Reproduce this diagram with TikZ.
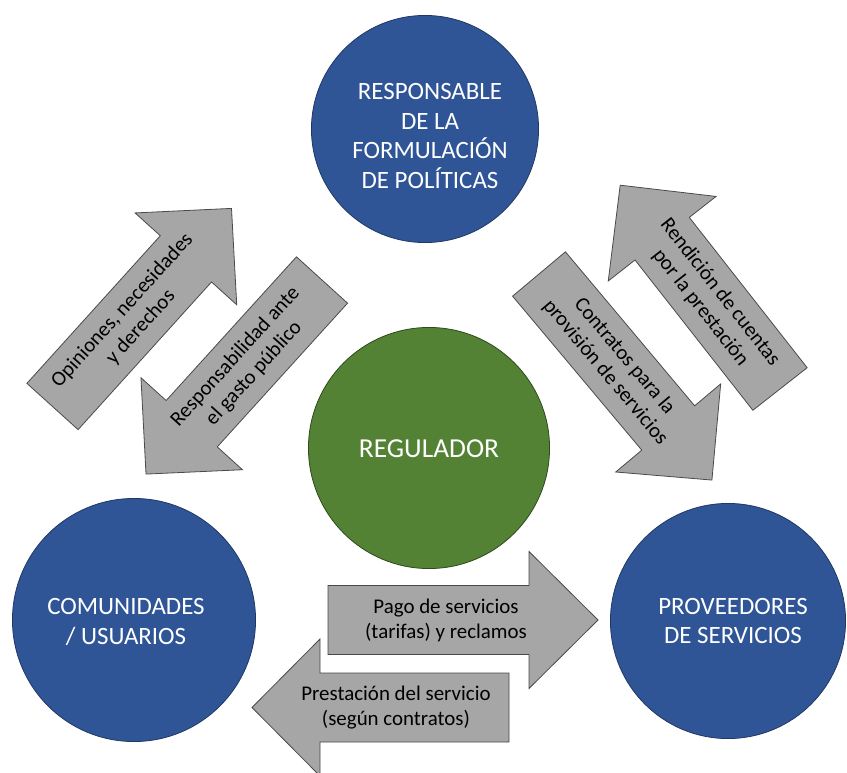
\documentclass[tikz,border=0pt]{standalone}
\usepackage{fontspec}
\setmainfont{Carlito}
\definecolor{cblue}{HTML}{2F5597}
\definecolor{cblueline}{HTML}{203864}
\definecolor{cgreen}{HTML}{548235}
\definecolor{cgreenline}{HTML}{2E4A1E}
\definecolor{agray}{HTML}{A6A6A6}
\definecolor{agrayline}{HTML}{4A4A4A}
\tikzset{
  bigcircle/.style={circle, inner sep=0pt, line width=0.8pt},
  bluecircle/.style={bigcircle, fill=cblue, draw=cblueline},
  greencircle/.style={bigcircle, fill=cgreen, draw=cgreenline},
  circletext/.style={text=white, align=center, inner sep=0pt, font=\fontsize{25}{29.5}\selectfont},
  arrowbox/.style={fill=agray, draw=agrayline, line width=0.8pt, line join=miter},
  arrowtext/.style={align=center, text=black, inner sep=0pt, font=\fontsize{21}{25}\selectfont}
}
\begin{document}
\begin{tikzpicture}[x=1bp,y=-1bp]
\useasboundingbox (0,0) rectangle (847,773);
\fill[white] (0,0) rectangle (847,773);

% circles
\node[bluecircle, minimum size=228] (pol) at (425,129) {};
\node[circletext] (polt) at (430,136) {RESPONSABLE\\DE LA\\FORMULACIÓN\\DE POLÍTICAS};
\node[greencircle, minimum size=242] (reg) at (429,448) {};
\node[circletext, font=\fontsize{27.5}{32}\selectfont] (regt) at (429,449) {REGULADOR};
\node[bluecircle, minimum size=244] (com) at (134,620) {};
\node[circletext] (comt) at (126,622) {COMUNIDADES\\/ USUARIOS};
\node[bluecircle, minimum size=236] (prov) at (728,621) {};
\node[circletext] (provt) at (733,621) {PROVEEDORES\\DE SERVICIOS};

% arrow 1: Opiniones (up-right)
\begin{scope}[shift={(52.5,406.5)}, rotate=47.9]
  \draw[arrowbox] (0,34.5) -- (199,34.5) -- (199,68.5) -- (267,0) -- (199,-68.5) -- (199,-34.5) -- (0,-34.5) -- cycle;
  \node[arrowtext, rotate=47.9] (t1) at (118,0) {Opiniones, necesidades\\y derechos};
\end{scope}

% arrow 2: Responsabilidad (down-left)
\begin{scope}[shift={(322,280)}, rotate=227.8]
  \draw[arrowbox] (0,34.5) -- (194,34.5) -- (194,68.5) -- (262,0) -- (194,-68.5) -- (194,-34.5) -- (0,-34.5) -- cycle;
  \node[arrowtext, rotate=47.8] (t2) at (115,0) {Responsabilidad ante\\el gasto público};
\end{scope}

% arrow 3: Contratos (down-right)
\begin{scope}[shift={(539,274)}, rotate=-50]
  \draw[arrowbox] (0,34.5) -- (201,34.5) -- (201,68.5) -- (269,0) -- (201,-68.5) -- (201,-34.5) -- (0,-34.5) -- cycle;
  \node[arrowtext, rotate=-50] (t3) at (118,0) {Contratos para la\\provisión de servicios};
\end{scope}

% arrow 4: Rendicion (up-left)
\begin{scope}[shift={(780,389)}, rotate=128.1]
  \draw[arrowbox] (0,34.5) -- (191,34.5) -- (191,68.5) -- (259,0) -- (191,-68.5) -- (191,-34.5) -- (0,-34.5) -- cycle;
  \node[arrowtext, rotate=-51.9] (t4) at (113,0) {Rendición de cuentas\\por la prestación};
\end{scope}

% arrow 5: Pago (right)
\begin{scope}[shift={(328,620)}, rotate=0]
  \draw[arrowbox] (0,34.5) -- (201,34.5) -- (201,68.5) -- (270,0) -- (201,-68.5) -- (201,-34.5) -- (0,-34.5) -- cycle;
  \node[arrowtext] (t5) at (118,0) {Pago de servicios\\(tarifas) y reclamos};
\end{scope}

% arrow 6: Prestacion (left)
\begin{scope}[shift={(509,707.5)}, rotate=180]
  \draw[arrowbox] (0,34.5) -- (189,34.5) -- (189,68.5) -- (257,0) -- (189,-68.5) -- (189,-34.5) -- (0,-34.5) -- cycle;
  \node[arrowtext] (t6) at (113,0) {Prestación del servicio\\(según contratos)};
\end{scope}
\end{tikzpicture}
\end{document}
